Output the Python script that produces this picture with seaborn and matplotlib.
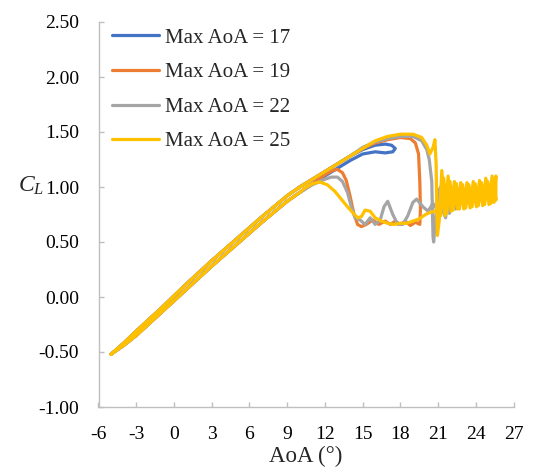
import matplotlib
matplotlib.use("Agg")
import matplotlib.pyplot as plt
from matplotlib.ticker import FormatStrFormatter
import seaborn as sns
import pandas as pd

# Attached-flow branches shared by every pitching case
attached_up_aoa = [-5.0, -4.0, -3.0, -1.0, 1.0, 3.0, 5.0, 7.0, 9.0, 10.0, 11.0, 12.0, 13.0, 14.0]
attached_up_cl = [-0.52, -0.42, -0.31, -0.10, 0.12, 0.33, 0.53, 0.73, 0.92, 1.00, 1.07, 1.14, 1.21, 1.28]
attached_down_aoa = [9.5, 9.0, 7.0, 5.0, 3.0, 1.0, -1.0, -3.0, -4.0, -5.0]
attached_down_cl = [0.91, 0.87, 0.68, 0.48, 0.28, 0.07, -0.14, -0.35, -0.44, -0.52]

# Max AoA = 17
aoa17 = [15.0, 16.0, 16.8, 17.3, 17.6, 17.4, 16.8, 16.0, 15.0, 14.0, 13.0, 12.0, 11.0, 10.0]
cl17 = [1.34, 1.38, 1.39, 1.38, 1.35, 1.32, 1.31, 1.32, 1.30, 1.24, 1.17, 1.10, 1.03, 0.95]

# Max AoA = 19
aoa19 = [15.0, 16.0, 17.0, 18.0, 18.8, 19.2, 19.45, 19.55, 19.6, 19.55, 19.2, 18.8, 18.4, 18.0,
         17.6, 17.2, 16.8, 16.3, 15.8, 15.3, 14.9, 14.6, 14.3, 14.0, 13.7, 13.4, 13.0, 12.6,
         12.0, 11.0, 10.0]
cl19 = [1.35, 1.40, 1.43, 1.45, 1.44, 1.40, 1.30, 1.05, 0.80, 0.66, 0.68, 0.65, 0.69, 0.66,
        0.69, 0.66, 0.69, 0.66, 0.70, 0.66, 0.64, 0.66, 0.76, 0.92, 1.06, 1.13, 1.16, 1.15,
        1.11, 1.03, 0.95]

# Max AoA = 22
aoa22 = [15.0, 16.0, 17.0, 18.0, 19.0, 19.7, 20.1, 20.3, 20.5, 20.55, 20.6, 20.65, 20.8, 21.0,
         21.2, 21.4, 21.6, 21.8, 22.0, 22.2, 22.4, 22.5, 22.3, 22.1, 21.9, 21.7, 21.5, 21.3,
         21.1, 20.9, 20.6, 20.2, 19.8, 19.3, 19.0, 18.6, 18.2, 17.8, 17.4, 17.0, 16.7, 16.4,
         16.0, 15.6, 15.2, 14.8, 14.4, 14.1, 13.8, 13.4, 13.0, 12.5, 12.0, 11.0, 10.0]
cl22 = [1.36, 1.41, 1.44, 1.46, 1.46, 1.42, 1.34, 1.25, 1.05, 0.80, 0.55, 0.50, 0.70, 0.95,
        1.00, 0.78, 0.72, 0.95, 1.00, 0.84, 0.80, 0.92, 0.98, 0.86, 0.76, 0.88, 0.96, 0.82,
        0.72, 0.80, 0.85, 0.78, 0.82, 0.89, 0.86, 0.74, 0.66, 0.66, 0.75, 0.87, 0.82, 0.70,
        0.66, 0.72, 0.66, 0.70, 0.72, 0.82, 0.95, 1.05, 1.09, 1.09, 1.07, 1.02, 0.95]

# Max AoA = 25
aoa25 = [15.0, 16.0, 17.0, 18.0, 19.0, 19.7, 20.1, 20.35, 20.6, 20.75, 20.85, 20.9, 20.95, 21.1,
         21.3, 21.55, 21.8, 22.05, 22.3, 22.55, 22.8, 23.05, 23.3, 23.55, 23.8, 24.05, 24.3,
         24.55, 24.8, 25.05, 25.3, 25.45, 25.6, 25.6, 25.4, 25.2, 24.95, 24.7, 24.45, 24.2,
         23.95, 23.7, 23.45, 23.2, 22.95, 22.7, 22.45, 22.2, 21.95, 21.7, 21.45, 21.2, 21.0,
         20.8, 20.4, 20.0, 19.5, 19.0, 18.5, 18.0, 17.5, 17.0, 16.5, 16.0, 15.6, 15.2, 14.9,
         14.6, 14.2, 13.8, 13.3, 12.8, 12.2, 11.6, 11.0, 10.4, 10.0]
cl25 = [1.35, 1.42, 1.46, 1.48, 1.48, 1.45, 1.38, 1.30, 1.36, 1.43, 1.20, 0.80, 0.56, 0.70,
        1.15, 0.74, 1.10, 0.78, 1.05, 0.80, 1.04, 0.80, 1.04, 0.81, 1.05, 0.82, 1.06,
        0.83, 1.08, 0.84, 1.10, 0.86, 1.10, 0.88, 1.06, 0.85, 1.05, 0.84, 1.04, 0.83,
        1.03, 0.82, 1.02, 0.81, 1.02, 0.80, 1.03, 0.79, 1.05, 0.76, 1.08, 0.74, 0.82,
        0.78, 0.77, 0.75, 0.71, 0.69, 0.67, 0.67, 0.66, 0.67, 0.69, 0.72, 0.78, 0.79, 0.73,
        0.72, 0.77, 0.82, 0.89, 0.96, 1.02, 1.045, 1.03, 0.99, 0.95]

series_labels = ["Max AoA = 17", "Max AoA = 19", "Max AoA = 22", "Max AoA = 25"]
series_colors = ["#4472C4", "#ED7D31", "#A5A5A5", "#FFC000"]
x_ticks = [-6, -3, 0, 3, 6, 9, 12, 15, 18, 21, 24, 27]
y_ticks = [-1.0, -0.5, 0.0, 0.5, 1.0, 1.5, 2.0, 2.5]

frames = []
for label, tail_aoa, tail_cl in zip(series_labels, [aoa17, aoa19, aoa22, aoa25],
                                    [cl17, cl19, cl22, cl25]):
    aoa = attached_up_aoa + tail_aoa + attached_down_aoa
    cl = attached_up_cl + tail_cl + attached_down_cl
    frames.append(pd.DataFrame({"AoA": aoa, "CL": cl, "case": label}))
df = pd.concat(frames, ignore_index=True)

sns.set_style("white")
plt.rcParams["font.family"] = ["Liberation Serif", "DejaVu Serif"]
plt.rcParams["mathtext.fontset"] = "custom"
plt.rcParams["mathtext.it"] = "Liberation Serif:italic"
plt.rcParams["mathtext.rm"] = "Liberation Serif"
plt.rcParams["axes.unicode_minus"] = False

fig = plt.figure(figsize=(5.34, 4.68), dpi=100)
ax = fig.add_axes([98.5 / 534, (468 - 407) / 468, 415 / 534, 385 / 468])

sns.lineplot(data=df, x="AoA", y="CL", hue="case", hue_order=series_labels,
             palette=series_colors, sort=False, estimator=None, linewidth=2.3, ax=ax)

ax.set_xlim(-6, 27)
ax.set_ylim(-1.0, 2.5)
ax.set_xticks(x_ticks)
ax.set_yticks(y_ticks)
ax.yaxis.set_major_formatter(FormatStrFormatter("%.2f"))

spine_color = "#BFBFBF"
for side in ["top", "right"]:
    ax.spines[side].set_visible(False)
for side in ["left", "bottom"]:
    ax.spines[side].set_color(spine_color)
    ax.spines[side].set_linewidth(1.0)
ax.tick_params(axis="both", direction="in", length=3.8, width=1.0, color=spine_color,
               labelsize=14, labelcolor="black")
ax.tick_params(axis="y", pad=14, left=True)
ax.tick_params(axis="x", pad=14, bottom=True)

ax.set_xlabel("AoA (°)", fontsize=16.5, labelpad=2)
ax.set_ylabel(r"$C_L$", fontsize=17, rotation=0)
ax.yaxis.set_label_coords(-0.162, 0.545)

handles, labels = ax.get_legend_handles_labels()
ax.legend(handles, labels, loc="upper left", bbox_to_anchor=(0.0325, 0.984), frameon=False,
          fontsize=15, handlelength=2.26, handletextpad=0.29, labelspacing=0.72,
          borderaxespad=0, borderpad=0)

fig.savefig("out.png", dpi=100)
